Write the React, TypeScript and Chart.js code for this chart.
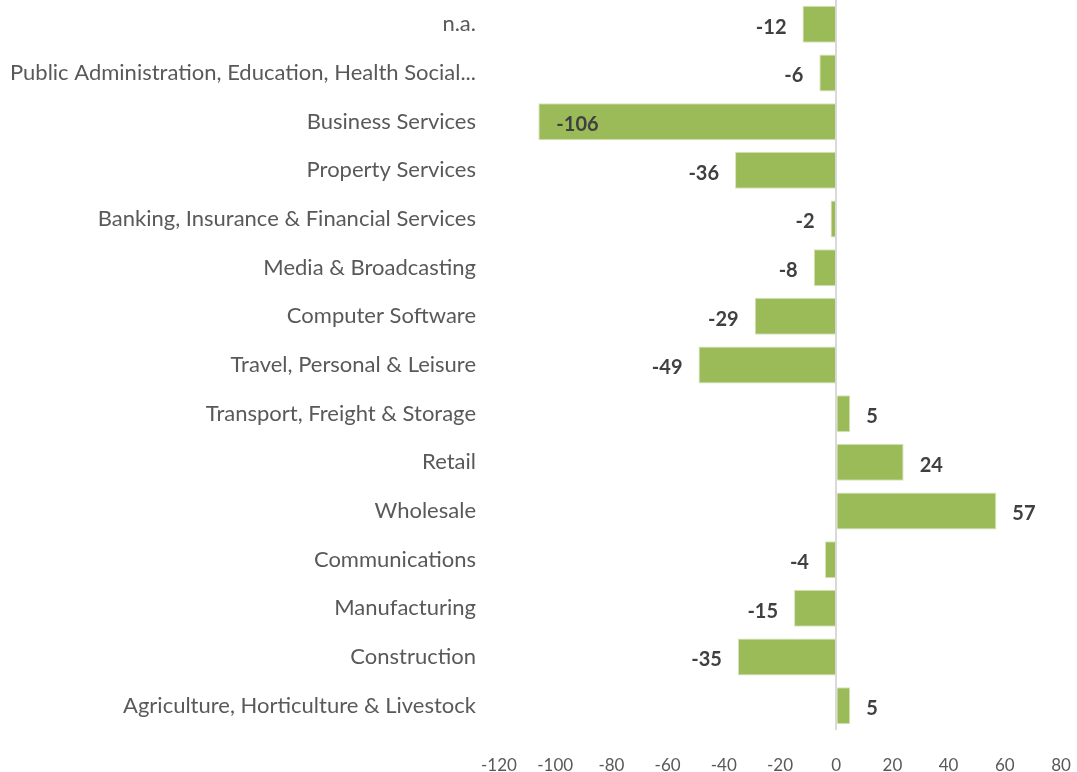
import React, { useEffect, useRef } from "react";
import { Chart, registerables } from "chart.js";

Chart.register(...registerables);

const categories = [
  "n.a.",
  "Public Administration, Education, Health Social...",
  "Business Services",
  "Property Services",
  "Banking, Insurance & Financial Services",
  "Media & Broadcasting",
  "Computer Software",
  "Travel, Personal & Leisure",
  "Transport, Freight & Storage",
  "Retail",
  "Wholesale",
  "Communications",
  "Manufacturing",
  "Construction",
  "Agriculture, Horticulture & Livestock",
];

const values = [-12, -6, -106, -36, -2, -8, -29, -49, 5, 24, 57, -4, -15, -35, 5];

const xMin = -120;
const xMax = 80;
const xStep = 20;

const FONT = "Lato, 'Open Sans', sans-serif";

const dataLabelPlugin = {
  id: "dataLabels",
  afterDatasetsDraw(chart: any) {
    const ctx = chart.ctx;
    const meta = chart.getDatasetMeta(0);
    const area = chart.chartArea;
    ctx.save();
    ctx.font = `bold 20px ${FONT}`;
    ctx.fillStyle = "#404040";
    ctx.textBaseline = "middle";
    meta.data.forEach((bar: any, i: number) => {
      const v = values[i];
      const text = String(v);
      const w = ctx.measureText(text).width;
      const gap = 16;
      const y = bar.y + 3;
      if (v < 0) {
        const x = bar.x - gap;
        if (x - w < area.left) {
          ctx.textAlign = "left";
          ctx.fillText(text, bar.x + gap + 2, y);
        } else {
          ctx.textAlign = "right";
          ctx.fillText(text, x, y);
        }
      } else {
        ctx.textAlign = "left";
        ctx.fillText(text, bar.x + gap, y);
      }
    });
    ctx.restore();
  },
};

export default function App() {
  const ref = useRef<HTMLCanvasElement>(null);
  useEffect(() => {
    if (!ref.current) return;
    const chart = new Chart(ref.current, {
      type: "bar",
      data: {
        labels: categories,
        datasets: [
          {
            data: values,
            backgroundColor: "#9BBB59",
            borderColor: "#d7e4bd",
            borderWidth: 1,
            categoryPercentage: 0.76,
            barPercentage: 1,
          },
        ],
      },
      options: {
        indexAxis: "y",
        animation: false,
        responsive: false,
        maintainAspectRatio: false,
        layout: { padding: { left: 0, right: 16, top: 0, bottom: 0 } },
        plugins: {
          legend: { display: false },
          tooltip: { enabled: false },
        },
        scales: {
          x: {
            min: xMin,
            max: xMax,
            ticks: {
              stepSize: xStep,
              color: "#595959",
              font: { family: FONT, size: 17 },
              padding: 25,
            },
            grid: {
              drawTicks: false,
              lineWidth: 2,
              color: (c: any) => (c.tick && c.tick.value === 0 ? "#d9d9d9" : "rgba(0,0,0,0)"),
            },
            border: { display: false },
            afterFit: (scale: any) => {
              scale.height = 42;
              scale.paddingLeft = 0;
              scale.paddingRight = 0;
            },
          },
          y: {
            ticks: {
              color: "#595959",
              font: { family: FONT, size: 22 },
              padding: 23,
              autoSkip: false,
            },
            grid: { display: false, drawTicks: false },
            border: { display: false },
            afterFit: (scale: any) => {
              scale.width = 499;
              scale.paddingTop = 0;
              scale.paddingBottom = 0;
            },
          },
        },
      },
      plugins: [dataLabelPlugin],
    });
    return () => chart.destroy();
  }, []);
  return (
    <div style={{ position: "absolute", left: 0, top: 0, width: 1077, height: 772, background: "#fff" }}>
      <canvas ref={ref} width={1077} height={772} style={{ display: "block" }} />
    </div>
  );
}
